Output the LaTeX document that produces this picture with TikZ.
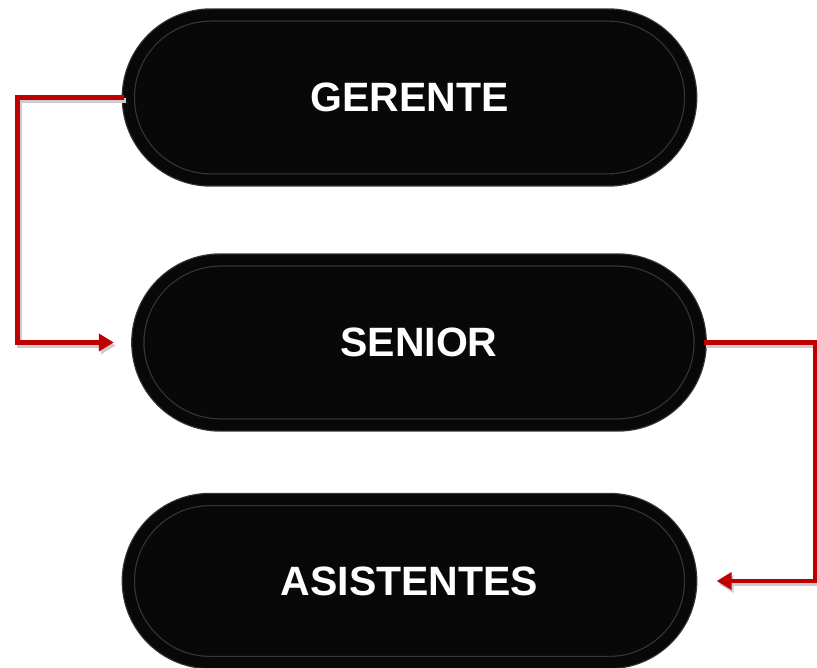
\documentclass[tikz,border=0pt]{standalone}
\usepackage{fontspec}
\setmainfont{Liberation Sans}
\usetikzlibrary{arrows.meta,positioning,calc,shapes.misc,shadows}

\definecolor{pillfill}{HTML}{080808}
\definecolor{pillring}{HTML}{363636}
\definecolor{linkred}{HTML}{C00000}

\begin{document}
\begin{tikzpicture}[
  x=1pt, y=1pt,
  pill/.style={rounded rectangle, fill=pillfill, draw=pillring, line width=1.2pt,
    double=pillfill, double distance=11pt, outer sep=4pt,
    minimum width=569pt, minimum height=165pt, text=white,
    font=\bfseries\fontsize{41}{49}\selectfont,
    drop shadow={shadow xshift=0pt, shadow yshift=-4pt, opacity=0.25}},
  link/.style={draw=linkred, line width=4.5pt,
    preaction={draw=black!20, line width=4.5pt, transform canvas={shift={(2pt,-3pt)}}}},
  >={Triangle[length=15pt, width=17pt]}
]
  \useasboundingbox (0,0) rectangle (817,-668);

  % Nodes
  \node[pill] (gerente) at (409.5,-97.5) {GERENTE};
  \node[pill] (senior) at (419,-342.5) {SENIOR};
  \node[pill, minimum height=163pt] (asistentes) at (409.5,-581) {ASISTENTES};

  % Arrows
  \draw[link,->] (gerente.west) -- ++(-107,0) |- ([xshift=-20pt]senior.west);
  \draw[link,->] (senior.east) -- ++(111,0) |- ([xshift=22pt]asistentes.east);
\end{tikzpicture}
\end{document}
